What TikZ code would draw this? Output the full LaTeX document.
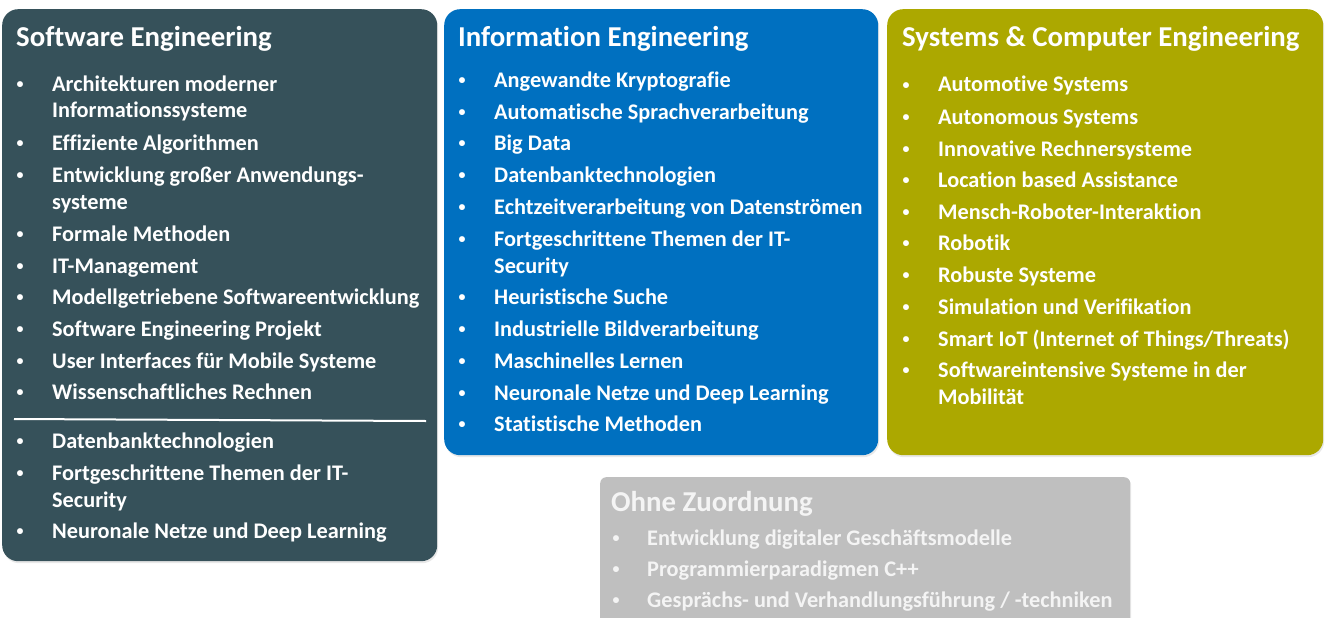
\documentclass[tikz,border=0pt]{standalone}
\usepackage{fontspec}
\setmainfont{Carlito}[Ligatures={NoCommon,NoContextual}]
\usetikzlibrary{shadows}
\definecolor{secol}{HTML}{36515A}
\definecolor{iecol}{HTML}{0070C0}
\definecolor{sccol}{HTML}{ACA800}
\definecolor{ohcol}{HTML}{BFBFBF}
\definecolor{ohtext}{HTML}{F4F4F4}
\tikzset{
  box/.style={rectangle, rounded corners=16pt, inner sep=0pt, draw=none, anchor=north west,
    drop shadow={opacity=0.18, shadow xshift=1pt, shadow yshift=-2pt}},
  ttl/.style={anchor=base west, inner sep=0pt, text=white, font=\bfseries\fontsize{28.8}{32}\selectfont},
  itm/.style={anchor=base west, inner sep=0pt, text=white, font=\bfseries\fontsize{22.3}{26}\selectfont},
  bul/.style={anchor=base west, inner sep=0pt, text=white, font=\bfseries\fontsize{14}{16}\selectfont},
}
\begin{document}
\begin{tikzpicture}[x=1pt,y=-1pt]
\useasboundingbox (0,0) rectangle (1327,618);
% boxes
\node[box, fill=secol, minimum width=435pt, minimum height=552pt] (se) at (2,9) {};
\node[box, fill=iecol, minimum width=434pt, minimum height=446pt] (ie) at (444,9) {};
\node[box, fill=sccol, minimum width=436pt, minimum height=446pt] (sc) at (887,9) {};
\node[box, fill=ohcol, rounded corners=6pt, minimum width=530pt, minimum height=170pt] (oh) at (600,477) {};
% Software Engineering
\node[ttl] (seT) at (16,47) {Software Engineering};
\foreach \y [count=\i] in {91,150,182,241,273,304,336,368,399,448,480,538}
  \node[bul] (seB\i) at (16.5,\y-2.5) {•};
\node[itm] (se1) at (52,91) {Architekturen moderner};
\node[itm] (se1b) at (52,117) {Informationssysteme};
\node[itm] (se2) at (52,150) {Effiziente Algorithmen};
\node[itm] (se3) at (52,182) {Entwicklung großer Anwendungs-};
\node[itm] (se3b) at (52,209) {systeme};
\node[itm] (se4) at (52,241) {Formale Methoden};
\node[itm] (se5) at (52,273) {IT-Management};
\node[itm] (se6) at (52,304) {Modellgetriebene Softwareentwicklung};
\node[itm] (se7) at (52,336) {Software Engineering Projekt};
\node[itm] (se8) at (52,368) {User Interfaces für Mobile Systeme};
\node[itm] (se9) at (52,399) {Wissenschaftliches Rechnen};
\coordinate (sepL) at (14,419);
\coordinate (sepR) at (426,421);
\draw[white, line width=2pt] (sepL) -- (sepR);
\node[itm] (se10) at (52,448) {Datenbanktechnologien};
\node[itm] (se11) at (52,480) {Fortgeschrittene Themen der IT-};
\node[itm] (se11b) at (52,507) {Security};
\node[itm] (se12) at (52,538) {Neuronale Netze und Deep Learning};
% Information Engineering
\node[ttl] (ieT) at (458,47) {Information Engineering};
\foreach \y [count=\i] in {87,119,150,182,214,246,304,336,368,400,431}
  \node[bul] (ieB\i) at (458.5,\y-2.5) {•};
\node[itm] (ie1) at (494,87) {Angewandte Kryptografie};
\node[itm] (ie2) at (494,119) {Automatische Sprachverarbeitung};
\node[itm] (ie3) at (494,150) {Big Data};
\node[itm] (ie4) at (494,182) {Datenbanktechnologien};
\node[itm] (ie5) at (494,214) {Echtzeitverarbeitung von Datenströmen};
\node[itm] (ie6) at (494,246) {Fortgeschrittene Themen der IT-};
\node[itm] (ie6b) at (494,273) {Security};
\node[itm] (ie7) at (494,304) {Heuristische Suche};
\node[itm] (ie8) at (494,336) {Industrielle Bildverarbeitung};
\node[itm] (ie9) at (494,368) {Maschinelles Lernen};
\node[itm] (ie10) at (494,400) {Neuronale Netze und Deep Learning};
\node[itm] (ie11) at (494,431) {Statistische Methoden};
% Systems & Computer Engineering
\node[ttl] (scT) at (902,47) {Systems \& Computer Engineering};
\foreach \y [count=\i] in {92,124,156,187,219,250,282,314,346,377}
  \node[bul] (scB\i) at (902.5,\y-2.5) {•};
\node[itm] (sc1) at (938,92) {Automotive Systems};
\node[itm] (sc2) at (938,124) {Autonomous Systems};
\node[itm] (sc3) at (938,156) {Innovative Rechnersysteme};
\node[itm] (sc4) at (938,187) {Location based Assistance};
\node[itm] (sc5) at (938,219) {Mensch-Roboter-Interaktion};
\node[itm] (sc6) at (938,250) {Robotik};
\node[itm] (sc7) at (938,282) {Robuste Systeme};
\node[itm] (sc8) at (938,314) {Simulation und Verifikation};
\node[itm] (sc9) at (938,346) {Smart IoT (Internet of Things/Threats)};
\node[itm] (sc10) at (938,377) {Softwareintensive Systeme in der};
\node[itm] (sc10b) at (938,404) {Mobilität};
% Ohne Zuordnung
\node[ttl, text=ohtext] (ohT) at (611,511) {Ohne Zuordnung};
\foreach \y [count=\i] in {545,576,607}
  \node[bul, text=ohtext] (ohB\i) at (612.5,\y-2.5) {•};
\node[itm, text=ohtext] (oh1) at (647,545) {Entwicklung digitaler Geschäftsmodelle};
\node[itm, text=ohtext] (oh2) at (647,576) {Programmierparadigmen C++};
\node[itm, text=ohtext] (oh3) at (647,607) {Gesprächs- und Verhandlungsführung / -techniken};
\end{tikzpicture}
\end{document}
